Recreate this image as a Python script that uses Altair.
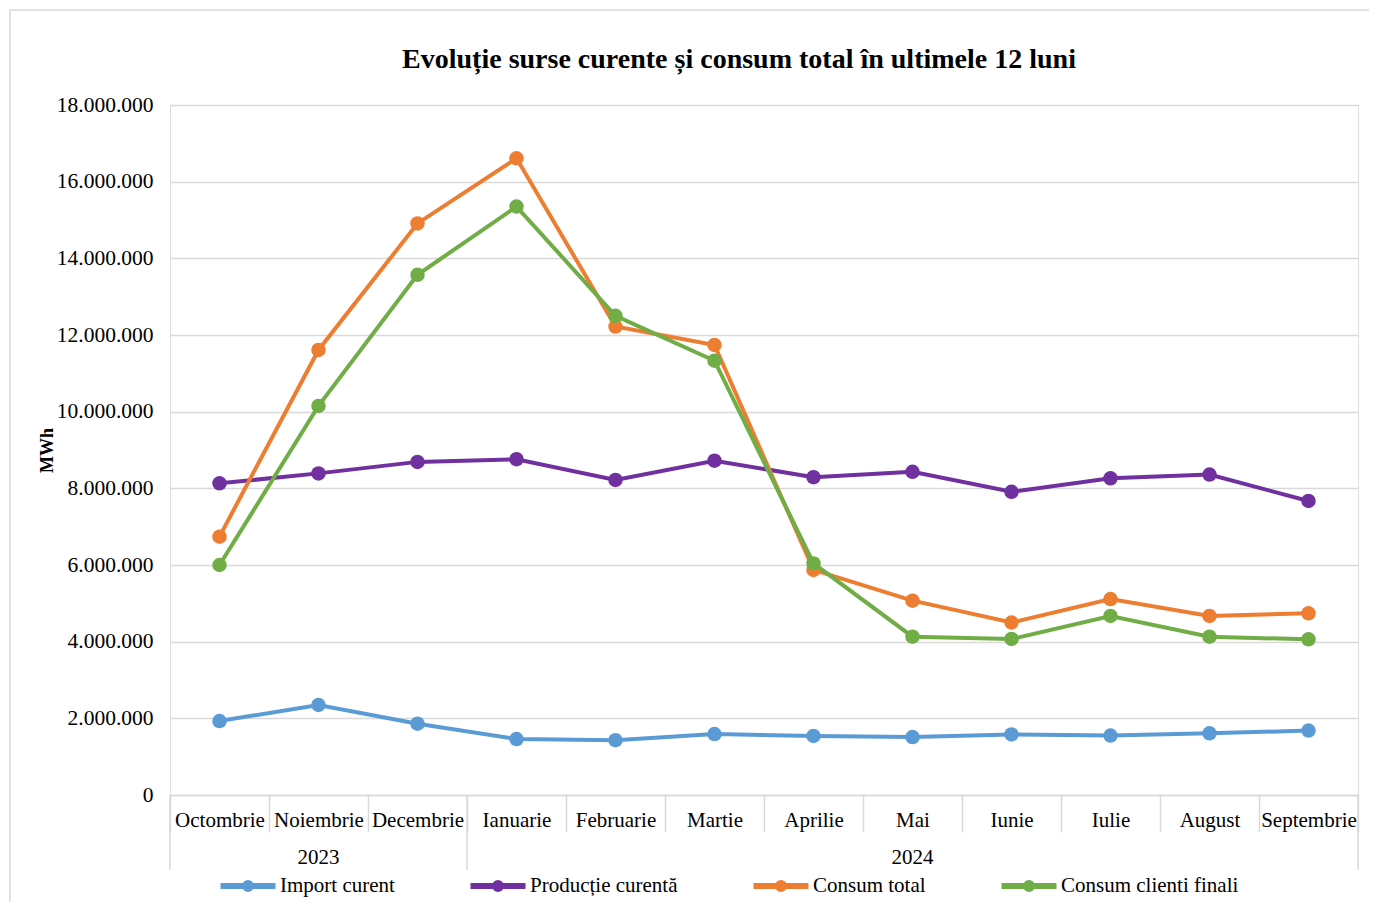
import altair as alt
import pandas as pd

months = ["Octombrie", "Noiembrie", "Decembrie", "Ianuarie", "Februarie", "Martie",
          "Aprilie", "Mai", "Iunie", "Iulie", "August", "Septembrie"]
import_curent = [1930000, 2350000, 1860000, 1460000, 1430000, 1590000,
                 1540000, 1510000, 1580000, 1550000, 1610000, 1680000]
productie_curenta = [8130000, 8390000, 8690000, 8760000, 8220000, 8720000,
                     8290000, 8430000, 7910000, 8260000, 8360000, 7670000]
consum_total = [6740000, 11610000, 14910000, 16610000, 12220000, 11740000,
                5870000, 5070000, 4500000, 5110000, 4670000, 4740000]
consum_clienti = [6000000, 10150000, 13570000, 15350000, 12500000, 11330000,
                  6040000, 4130000, 4070000, 4670000, 4130000, 4060000]
series_names = ["Import curent", "Producție curentă", "Consum total", "Consum clienti finali"]
series_colors = ["#5B9BD5", "#7030A0", "#ED7D31", "#70AD47"]
years = ["2023", "2024"]
year_center_months = ["Noiembrie", "Mai"]
year_start_months = ["Octombrie", "Ianuarie"]
year_end_months = ["Septembrie"]
y_ticks = [0, 2000000, 4000000, 6000000, 8000000, 10000000, 12000000,
           14000000, 16000000, 18000000]
title_text = "Evoluție surse curente și consum total în ultimele 12 luni"

FONT = "Liberation Serif"
GRID = "#d9d9d9"
W, H = 1188, 690

rows = []
for name, vals in zip(series_names, [import_curent, productie_curenta, consum_total, consum_clienti]):
    for m, v in zip(months, vals):
        rows.append({"luna": m, "serie": name, "valoare": v})
df = pd.DataFrame(rows)

xscale = alt.Scale(type="band", domain=months, paddingInner=0, paddingOuter=0)
yscale = alt.Scale(domain=[0, 18000000], nice=False)

x_axis = alt.Axis(labelAngle=0, labelAlign="center", labelBaseline="alphabetic",
                  labelFont=FONT, labelFontSize=21, labelColor="black",
                  tickBand="extent", tickSize=37, tickColor=GRID, tickWidth=1.5,
                  domainColor=GRID, domainWidth=1.5, labelPadding=-6, grid=False,
                  labelOverlap=False)
y_axis = alt.Axis(values=y_ticks, labelFont=FONT, labelFontSize=21.5, labelColor="black",
                  labelExpr="replace(format(datum.value, ','), /,/g, '.')",
                  ticks=False, domain=False, labelPadding=17,
                  gridColor=GRID, gridWidth=1.5,
                  title="MWh", titleFont=FONT, titleFontSize=18, titleFontWeight="bold",
                  titleColor="black", titleX=-123, titleY=345, titleAngle=270,
                  titleAlign="center", titleBaseline="middle")

legend_path = ("M-2,0 H2 "
               "M-0.218,0 A0.218,0.218 0 1,1 0.218,0 A0.218,0.218 0 1,1 -0.218,0")
legend = alt.Legend(title=None, orient="none", legendX=61, legendY=764, direction="horizontal",
                    columns=4, columnPadding=63, symbolType=legend_path, symbolSize=756,
                    symbolStrokeWidth=6, symbolOpacity=1, labelOffset=15, labelFont=FONT,
                    labelFontSize=21, labelColor="black", labelLimit=400)

base = alt.Chart(df)
layers = []
for name in series_names:
    layers.append(
        base.transform_filter(alt.datum.serie == name)
        .mark_line(strokeWidth=4, point=alt.OverlayMarkDef(size=210, filled=True, opacity=1))
        .encode(
            x=alt.X("luna:N", sort=months, scale=xscale, axis=x_axis, title=None, bandPosition=0.5),
            y=alt.Y("valoare:Q", scale=yscale, axis=y_axis),
            color=alt.Color("serie:N", scale=alt.Scale(domain=series_names, range=series_colors),
                            legend=legend),
        )
    )

start_df = pd.DataFrame({"luna": year_start_months})
end_df = pd.DataFrame({"luna": year_end_months})
year_df = pd.DataFrame({"luna": year_center_months, "an": years})

start_rules = alt.Chart(start_df).mark_rule(color=GRID, strokeWidth=1.5).encode(
    x=alt.X("luna:N", sort=months, scale=xscale, title=None, bandPosition=0),
    y=alt.value(H), y2=alt.value(H + 75))
end_rules = alt.Chart(end_df).mark_rule(color=GRID, strokeWidth=1.5).encode(
    x=alt.X("luna:N", sort=months, scale=xscale, title=None, bandPosition=1),
    y=alt.value(H), y2=alt.value(H + 75))
year_text = alt.Chart(year_df).mark_text(font=FONT, fontSize=21, color="black", baseline="middle").encode(
    x=alt.X("luna:N", sort=months, scale=xscale, title=None, bandPosition=0.5),
    y=alt.value(H + 63), text="an:N")

title_mark = alt.Chart(pd.DataFrame({"t": [title_text]})).mark_text(
    font=FONT, fontSize=28, fontWeight="bold", color="black", baseline="alphabetic", align="center"
).encode(x=alt.value(569), y=alt.value(-37), text="t:N")

frame = alt.Chart(pd.DataFrame({"f": [0]})).mark_rect(fillOpacity=0, stroke=GRID, strokeWidth=1.5).encode(
    x=alt.value(-160), x2=alt.value(1230), y=alt.value(-95), y2=alt.value(900))

chart = alt.layer(frame, title_mark, start_rules, end_rules, year_text, *layers).properties(
    width=W, height=H,
    autosize=alt.AutoSizeParams(type="none"),
    padding={"left": 162, "top": 97, "right": 11, "bottom": 107},
).configure_view(stroke=None).configure(background="white")

chart.save("out.html", embed_options={"renderer": "svg", "actions": False})
